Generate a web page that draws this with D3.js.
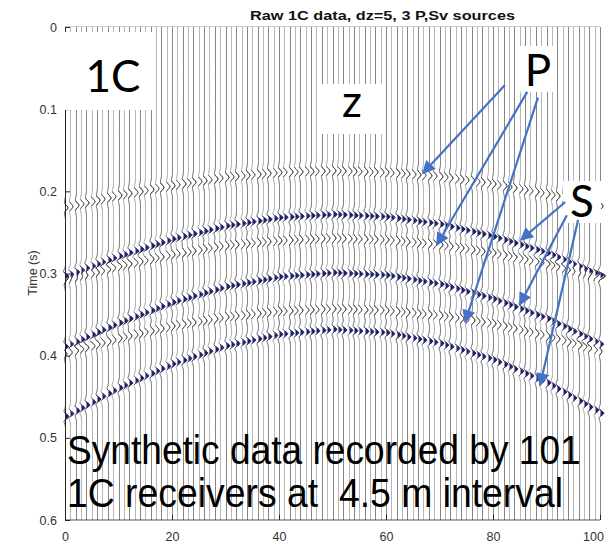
<!DOCTYPE html>
<html>
<head>
<meta charset="utf-8">
<script src="https://cdn.jsdelivr.net/npm/d3@7"></script>
<style>
  body { margin: 0; background: #fff; }
  svg { display: block; }
  text { white-space: pre; }
</style>
</head>
<body>
<svg id="chart" width="608" height="546"></svg>
<script>
// receivers and picked arrival times (s), read every 10 traces
var receivers = d3.range(0, 101);
var pickAt = [0, 10, 20, 30, 40, 50, 60, 70, 80, 90, 100];
var arrP1    = [0.220, 0.205, 0.193, 0.183, 0.177, 0.175, 0.177, 0.182, 0.191, 0.203, 0.218];
var arrDark1 = [0.303, 0.279, 0.258, 0.242, 0.232, 0.228, 0.231, 0.240, 0.255, 0.275, 0.302];
var arrS1    = [0.308, 0.291, 0.277, 0.266, 0.260, 0.257, 0.259, 0.265, 0.275, 0.288, 0.305];
var arrDark2 = [0.389, 0.360, 0.335, 0.316, 0.304, 0.299, 0.302, 0.313, 0.331, 0.355, 0.386];
var arrS2    = [0.397, 0.379, 0.364, 0.353, 0.346, 0.343, 0.345, 0.351, 0.361, 0.376, 0.394];
var arrDark3 = [0.474, 0.439, 0.410, 0.388, 0.374, 0.368, 0.372, 0.385, 0.405, 0.433, 0.470];

var yTicks = [0, 0.1, 0.2, 0.3, 0.4, 0.5, 0.6];
var xTicks = [0, 20, 40, 60, 80, 100];

var title = "Raw 1C data, dz=5, 3 P,Sv sources";
var noteLines = ["Synthetic data recorded by 101", "1C receivers at  4.5 m interval"];

// arrows: [trace, time] tail -> tip
var pArrows = [[[82.2, 0.071], [66.9, 0.178]], [[86.4, 0.079], [69.5, 0.265]], [[88.4, 0.086], [74.8, 0.359]]];
var sArrows = [[[93.5, 0.213], [85.2, 0.259]], [[93.8, 0.229], [85.0, 0.338]], [[95.9, 0.235], [88.8, 0.436]]];

var svg = d3.select("#chart");
var x = d3.scaleLinear().domain([0, 100]).range([65, 600]);
var y = d3.scaleLinear().domain([0, 0.6]).range([27, 520]);

var events = [
  {arr: arrP1, gain: 2.4, f: 55, dark: false},
  {arr: arrDark1, gain: 3.4, f: 62, dark: true},
  {arr: arrS1, gain: 2.4, f: 55, dark: false},
  {arr: arrDark2, gain: 3.4, f: 62, dark: true},
  {arr: arrS2, gain: 2.4, f: 55, dark: false},
  {arr: arrDark3, gain: 3.2, f: 62, dark: true}
];
events.forEach(function(e) { e.scale = d3.scaleLinear().domain(pickAt).range(e.arr); });

function ricker(tau, f) {
  var a = Math.PI * f * tau; a = a * a;
  return (1 - 2 * a) * Math.exp(-a);
}

svg.append("clipPath").attr("id", "clip").append("rect")
  .attr("x", 58).attr("y", 27).attr("width", 550).attr("height", 493);

var plot = svg.append("g").attr("clip-path", "url(#clip)");
var ts = d3.range(0, 0.6005, 0.0005);

receivers.forEach(function(r) {
  var base = Math.round(x(r)) + 0.5;
  var arrs = events.map(function(e) { return e.scale(r); });
  var pts = ts.map(function(t) {
    var off = 0, dk = 0;
    events.forEach(function(e, k) {
      var tau = t - arrs[k];
      if (Math.abs(tau) > 0.03) return;
      var v = e.gain * ricker(tau, e.f);
      off += v;
      if (e.dark) dk += v;
    });
    return {t: t, off: off, dk: dk};
  });
  var area = d3.area().y(function(d) { return y(d.t); })
    .x0(base).x1(function(d) { return base + Math.max(0, d.dk); });
  plot.append("path").attr("d", area(pts)).attr("fill", "#1c1f66");
  var line = d3.line().y(function(d) { return y(d.t); }).x(function(d) { return base + d.off; });
  plot.append("path").attr("d", line(pts)).attr("fill", "none")
    .attr("stroke", r % 2 ? "#9a9a9a" : "#555").attr("stroke-width", 1);
  // darker ink where the wiggle swings
  events.forEach(function(e, k) {
    var w = e.dark ? 0.005 : 0.006;
    var seg = pts.filter(function(d) { return Math.abs(d.t - arrs[k]) < w; });
    plot.append("path").attr("d", line(seg)).attr("fill", "none")
      .attr("stroke", e.dark ? "#1c1f66" : "#333").attr("stroke-width", e.dark ? 1 : 0.9);
  });
});

// axes
var axisCol = "#262626";
svg.append("line").attr("x1", 65).attr("x2", 600).attr("y1", 520).attr("y2", 520)
  .attr("stroke", axisCol).attr("stroke-width", 0.8);
svg.append("line").attr("x1", 65).attr("x2", 600).attr("y1", 26.5).attr("y2", 26.5)
  .attr("stroke", "#bbb").attr("stroke-width", 0.8);
svg.append("line").attr("x1", 65.5).attr("x2", 65.5).attr("y1", 27).attr("y2", 520)
  .attr("stroke", axisCol).attr("stroke-width", 1);

var yAxis = svg.append("g").attr("transform", "translate(65,0)")
  .call(d3.axisRight(y).tickValues(yTicks).tickSize(5).tickFormat(d3.format("~g")));
yAxis.select(".domain").remove();
yAxis.selectAll("line").attr("stroke", axisCol);
yAxis.selectAll("text").attr("x", -8).attr("text-anchor", "end")
  .attr("font-family", "Liberation Sans, Arial, sans-serif").attr("font-size", 12.5).attr("fill", "#333");

var xAxis = svg.append("g").attr("transform", "translate(0,520)")
  .call(d3.axisTop(x).tickValues(xTicks).tickSize(5));
xAxis.select(".domain").remove();
xAxis.selectAll("line").attr("stroke", axisCol);
xAxis.selectAll("text").attr("y", 12).attr("dy", "0.71em")
  .attr("font-family", "Liberation Sans, Arial, sans-serif").attr("font-size", 12.5).attr("fill", "#333")
  .attr("dx", function(d) { return d === 100 ? -7 : 0; });

svg.append("text").attr("transform", "translate(37,273) rotate(-90)")
  .attr("text-anchor", "middle").attr("font-family", "Liberation Sans, Arial, sans-serif")
  .attr("font-size", 12.5).attr("fill", "#333").text("Time (s)");

svg.append("text").attr("x", 250).attr("y", 20).attr("textLength", 265).attr("lengthAdjust", "spacingAndGlyphs")
  .attr("font-family", "Liberation Sans, Arial, sans-serif").attr("font-weight", "bold")
  .attr("font-size", 13.5).attr("fill", "#111").text(title);

// white label boxes
var boxes = [[62, 32, 91, 78], [322, 84, 62, 50], [519, 46, 38, 46], [563, 181, 38, 42]];
svg.selectAll(".box").data(boxes).enter().append("rect")
  .attr("x", function(d) { return d[0]; }).attr("y", function(d) { return d[1]; })
  .attr("width", function(d) { return d[2]; }).attr("height", function(d) { return d[3]; })
  .attr("fill", "#fff");

var labels = [["1C", 113, 92], ["z", 352, 117], ["P", 538, 86], ["S", 582, 217]];
svg.selectAll(".lab").data(labels).enter().append("text")
  .attr("x", function(d) { return d[1]; }).attr("y", function(d) { return d[2]; })
  .attr("text-anchor", "middle").attr("font-family", "Lato, Open Sans, sans-serif")
  .attr("font-size", 44).attr("fill", "#000").text(function(d) { return d[0]; });

// arrows
var blue = "#4472c4";
svg.append("defs").append("marker").attr("id", "head").attr("viewBox", "0 0 10 10")
  .attr("refX", 9).attr("refY", 5).attr("markerWidth", 6.5).attr("markerHeight", 6)
  .attr("markerUnits", "strokeWidth").attr("orient", "auto")
  .append("path").attr("d", "M0,0 L10,5 L0,10 z").attr("fill", blue);

svg.selectAll(".arr").data(pArrows.concat(sArrows)).enter().append("line")
  .attr("x1", function(d) { return x(d[0][0]); }).attr("y1", function(d) { return y(d[0][1]); })
  .attr("x2", function(d) { return x(d[1][0]); }).attr("y2", function(d) { return y(d[1][1]); })
  .attr("stroke", blue).attr("stroke-width", 2.2).attr("marker-end", "url(#head)");

// note text, squeezed horizontally like the reference
svg.selectAll(".note").data(noteLines).enter().append("text")
  .attr("transform", function(d, i) { return "translate(67," + (464 + i * 43) + ") scale(" + (i === 0 ? 0.928 : 0.934) + ",1)"; })
  .attr("font-family", "Liberation Sans, Arial, sans-serif").attr("font-size", 40)
  .attr("fill", "#000").text(function(d) { return d; });
</script>
</body>
</html>
